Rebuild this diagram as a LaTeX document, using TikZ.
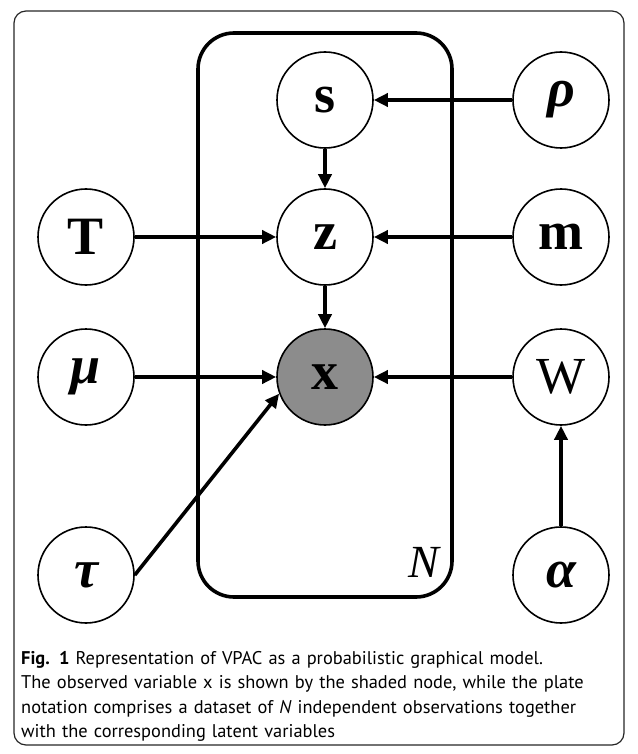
\documentclass[tikz,border=0pt]{standalone}
\usepackage{fontspec}
\newfontfamily\capfont{PT Sans}
\newfontfamily\nodefont{Liberation Serif}
\usetikzlibrary{arrows.meta}
\begin{document}
\begin{tikzpicture}[x=1pt,y=-1pt,
  var/.style={circle,draw,line width=1.6pt,minimum size=96pt,inner sep=0pt,font=\nodefont\fontsize{52}{52}\selectfont},
  bvar/.style={var,font=\nodefont\fontsize{54}{54}\selectfont\bfseries},
  obs/.style={bvar,fill=black!45},
  edge/.style={line width=3.6pt,-{Triangle[length=14pt,width=13pt]}},
  plate/.style={draw,line width=3.6pt,rounded corners=36pt},
  bi/.style={font=\nodefont\fontsize{54}{54}\selectfont\bfseries\itshape}]
\useasboundingbox (0,0) rectangle (637,754);
\draw[line width=1.2pt,rounded corners=12pt,black!85] (14,11) rectangle (624,745);
\draw[plate] (198,33) rectangle (452,597);
\node[font=\nodefont\fontsize{46}{46}\selectfont\itshape] (Nlab) at (424,562) {N};
\node[bvar] (s) at (325,100) {s};
\node[var,bi] (rho) at (561,100) {ρ};
\node[bvar] (T) at (86,237) {T};
\node[bvar] (z) at (325,237) {z};
\node[bvar] (m) at (561,237) {m};
\node[var,bi] (mu) at (86,377) {μ};
\node[obs] (x) at (325,377) {x};
\node[var] (W) at (561,377) {W};
\node[var,bi] (tau) at (86,575) {τ};
\node[var,bi] (alpha) at (561,575) {α};
\draw[edge] (rho) -- (s);
\draw[edge] (s) -- (z);
\draw[edge] (T) -- (z);
\draw[edge] (m) -- (z);
\draw[edge] (z) -- (x);
\draw[edge] (mu) -- (x);
\draw[edge] (W) -- (x);
\draw[edge] (alpha) -- (W);
\draw[edge] (tau.east) -- (x.200);
\node[anchor=north west,align=left,text width=600pt,inner sep=0pt,font=\capfont\fontsize{18.4}{24.5}\selectfont] (cap) at (21,651)
{\textbf{Fig. 1} Representation of VPAC as a probabilistic graphical model.\\
The observed variable x is shown by the shaded node, while the plate\\
notation comprises a dataset of \emph{N} independent observations together\\
with the corresponding latent variables};
\end{tikzpicture}
\end{document}
